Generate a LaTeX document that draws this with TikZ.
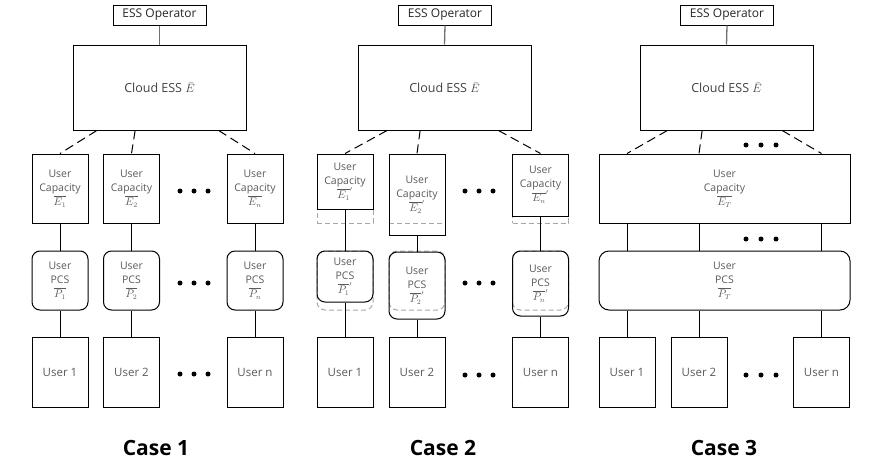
\documentclass[tikz,border=0pt]{standalone}
\usepackage{fontspec}
\setmainfont{Open Sans}
\usetikzlibrary{calc}
\definecolor{txtgray}{HTML}{5A5A5A}
\definecolor{ghost}{HTML}{A8A8A8}
\definecolor{oplink}{HTML}{707070}
\begin{document}
\begin{tikzpicture}[x=1pt,y=-1pt,
  bx/.style={draw=black, line width=1pt, inner sep=0pt, align=center, minimum width=56pt},
  capbox/.style={bx, text=txtgray, font=\fontsize{10.5}{14}\selectfont},
  pcsbox/.style={capbox, draw=black, rounded corners=8pt},
  usrbox/.style={bx, minimum height=70pt, text=txtgray, font=\fontsize{11.5}{14}\selectfont},
  opbox/.style={bx, minimum width=93pt, minimum height=20pt, font=\fontsize{12}{14}\selectfont, text=black!85},
  cloudbox/.style={bx, minimum width=173pt, minimum height=85pt, font=\fontsize{12.5}{14}\selectfont, text=black!75},
  ghostbox/.style={draw=ghost, line width=1pt, dash pattern=on 5pt off 3pt, minimum width=56pt, inner sep=0pt},
  link/.style={line width=1pt},
  oplk/.style={line width=1.3pt, draw=oplink},
  dlink/.style={line width=1pt, dash pattern=on 9pt off 5pt},
  caselbl/.style={font=\fontsize{21}{24}\selectfont\bfseries}
]
\useasboundingbox (0,0) rectangle (874,471);

% ================= Case 1 =================
\node[opbox] (op1) at (159.5,15) {ESS Operator};
\node[cloudbox] (cl1) at (159.5,87.5) {Cloud ESS $\bar{E}$};
\node[capbox, minimum height=69pt] (c11) at (60,188.5) {User\\Capacity\\$\overline{E_1}$};
\node[capbox, minimum height=69pt] (c12) at (131.5,188.5) {User\\Capacity\\$\overline{E_2}$};
\node[capbox, minimum height=69pt] (c1n) at (255,188.5) {User\\Capacity\\$\overline{E_n}$};
\node[pcsbox, minimum height=59pt] (p11) at (60,280.5) {User\\PCS\\$\overline{P_1}$};
\node[pcsbox, minimum height=59pt] (p12) at (131.5,280.5) {User\\PCS\\$\overline{P_2}$};
\node[pcsbox, minimum height=59pt] (p1n) at (255,280.5) {User\\PCS\\$\overline{P_n}$};
\node[usrbox] (u11) at (60,372) {User 1};
\node[usrbox] (u12) at (131.5,372) {User 2};
\node[usrbox] (u1n) at (255,372) {User n};
\draw[oplk] (op1.south) -- (cl1.north);
\draw[dlink] ($(cl1.south west)!0.14!(cl1.south east)$) -- (c11.north);
\draw[dlink] ($(cl1.south west)!0.36!(cl1.south east)$) -- (c12.north);
\draw[dlink] ($(cl1.south west)!0.84!(cl1.south east)$) -- (c1n.north);
\foreach \n in {1,2,n}{
  \draw[link] (c1\n.south) -- (p1\n.north);
  \draw[link] (p1\n.south) -- (u1\n.north);
}
\foreach \y in {191,283,374}{
  \foreach \x in {180,194,208}{\fill (\x,\y) circle (2.5pt);}
}
\node[caselbl] (case1) at (156,448) {Case 1};

% ================= Case 2 =================
\node[opbox] (op2) at (445,15) {ESS Operator};
\node[cloudbox] (cl2) at (444.5,87.5) {Cloud ESS $\bar{E}$};
% ghost (original size) outlines
\node[ghostbox, minimum height=69pt] (g21) at (345,188.5) {};
\node[ghostbox, minimum height=69pt] (g22) at (417,188.5) {};
\node[ghostbox, minimum height=69pt] (g2n) at (540.5,188.5) {};
\node[ghostbox, rounded corners=8pt, minimum height=59pt] (h21) at (345,280.5) {};
\node[ghostbox, rounded corners=8pt, minimum height=59pt] (h22) at (417,280.5) {};
\node[ghostbox, rounded corners=8pt, minimum height=59pt] (h2n) at (540.5,280.5) {};
\node[capbox, minimum height=55pt] (c21) at (345,181.5) {User\\Capacity\\$\overline{E_1}'$};
\node[capbox, minimum height=81pt] (c22) at (417,194.5) {User\\Capacity\\$\overline{E_2}'$};
\node[capbox, minimum height=62pt] (c2n) at (540.5,185) {User\\Capacity\\$\overline{E_n}'$};
\node[pcsbox, minimum height=51pt] (p21) at (345,276.5) {User\\PCS\\$\overline{P_1}'$};
\node[pcsbox, minimum height=67pt] (p22) at (417,285.5) {User\\PCS\\$\overline{P_2}'$};
\node[pcsbox, minimum height=65pt] (p2n) at (540.5,283.5) {User\\PCS\\$\overline{P_n}'$};
\node[usrbox] (u21) at (345,372) {User 1};
\node[usrbox] (u22) at (417,372) {User 2};
\node[usrbox] (u2n) at (540.5,372) {User n};
\draw[oplk] (op2.south) -- (cl2.north);
\draw[dlink] ($(cl2.south west)!0.17!(cl2.south east)$) -- (c21.north);
\draw[dlink] ($(cl2.south west)!0.36!(cl2.south east)$) -- (c22.north);
\draw[dlink] ($(cl2.south west)!0.81!(cl2.south east)$) -- (c2n.north);
\foreach \n in {1,2,n}{
  \draw[link] (c2\n.south) -- (p2\n.north);
  \draw[link] (p2\n.south) -- (u2\n.north);
}
\foreach \y in {191,283,375}{
  \foreach \x in {465,479,493}{\fill (\x,\y) circle (2.5pt);}
}
\node[caselbl] (case2) at (443,448) {Case 2};

% ================= Case 3 =================
\node[opbox] (op3) at (727,15) {ESS Operator};
\node[cloudbox] (cl3) at (726.5,87.5) {Cloud ESS $\bar{E}$};
\node[capbox, minimum width=251pt, minimum height=69pt] (cT) at (724.5,188.5) {User\\Capacity\\$\overline{E_T}$};
\node[pcsbox, rounded corners=10pt, minimum width=251pt, minimum height=59pt] (pT) at (724.5,280.5) {User\\PCS\\$\overline{P_T}$};
\node[usrbox] (u31) at (627,372) {User 1};
\node[usrbox] (u32) at (699,372) {User 2};
\node[usrbox] (u3n) at (821.5,372) {User n};
\draw[oplk] (op3.south) -- (cl3.north);
\draw[dlink] ($(cl3.south west)!0.16!(cl3.south east)$) -- (u31 |- cT.north);
\draw[dlink] ($(cl3.south west)!0.36!(cl3.south east)$) -- (u32 |- cT.north);
\draw[dlink] ($(cl3.south west)!0.82!(cl3.south east)$) -- (u3n |- cT.north);
\foreach \n in {1,2,n}{
  \draw[link] (u3\n |- cT.south) -- (u3\n |- pT.north);
  \draw[link] (u3\n |- pT.south) -- (u3\n.north);
}
\foreach \y in {145,239,375}{
  \foreach \x in {746,761,776}{\fill (\x,\y) circle (2.5pt);}
}
\node[caselbl] (case3) at (724,448) {Case 3};
\end{tikzpicture}
\end{document}
